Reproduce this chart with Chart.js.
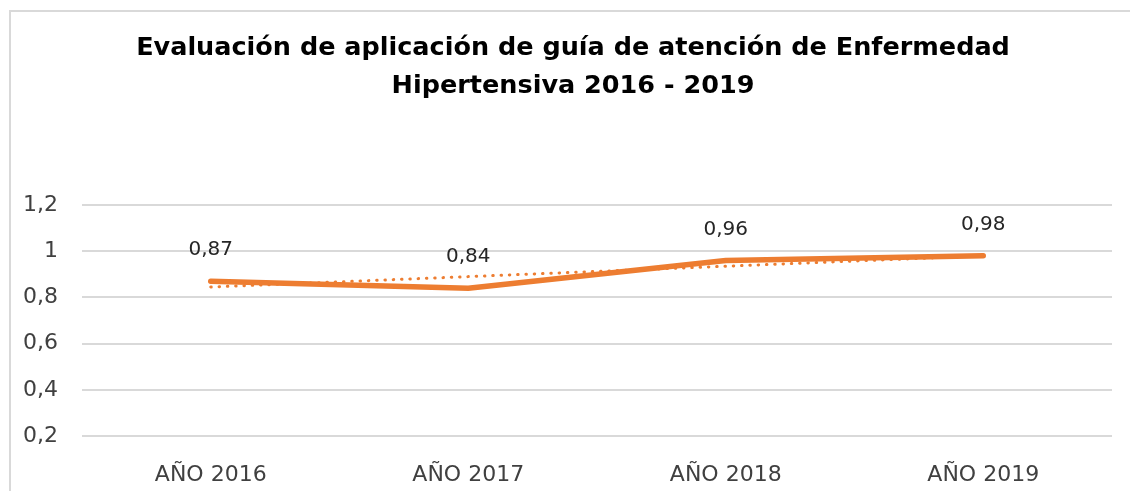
<!DOCTYPE html>
<html>
<head>
<meta charset="utf-8">
<script src="https://cdn.jsdelivr.net/npm/chart.js@4/dist/chart.umd.min.js"></script>
<style>
  html, body { margin: 0; padding: 0; background: #fff; overflow: hidden; }
  #wrap { width: 1130px; height: 491px; position: relative; }
</style>
</head>
<body>
<div id="wrap"><canvas id="chart"></canvas></div>
<script>
// datos del gráfico
const categories = ['AÑO 2016', 'AÑO 2017', 'AÑO 2018', 'AÑO 2019'];
const valores = [0.87, 0.84, 0.96, 0.98];
const tendencia = [0.845, 0.89, 0.935, 0.98]; // línea de tendencia
const yTicks = [0.2, 0.4, 0.6, 0.8, 1, 1.2];
const titulo = ['Evaluación de aplicación de guía de atención de Enfermedad', 'Hipertensiva 2016 - 2019'];

const naranja = '#ED7D31';
const fuente = "'DejaVu Sans', sans-serif";

const fmt = v => String(Math.round(v * 100) / 100).replace('.', ',');

// marco gris (solo borde superior e izquierdo visibles) y título
const marco = {
  id: 'marco',
  beforeDraw(chart) {
    const ctx = chart.ctx;
    ctx.save();
    ctx.strokeStyle = '#d9d9d9';
    ctx.lineWidth = 2;
    ctx.beginPath();
    ctx.moveTo(10, 500);
    ctx.lineTo(10, 11);
    ctx.lineTo(1140, 11);
    ctx.stroke();

    // título centrado sobre el marco
    ctx.font = 'bold 25.5px ' + fuente;
    ctx.fillStyle = '#000';
    ctx.textAlign = 'center';
    ctx.textBaseline = 'middle';
    titulo.forEach((t, i) => ctx.fillText(t, 573, 48 + i * 38));
    ctx.restore();
  }
};

// etiquetas de datos sobre los puntos
const etiquetas = {
  id: 'etiquetas',
  afterDatasetsDraw(chart) {
    const ctx = chart.ctx;
    const meta = chart.getDatasetMeta(0);
    ctx.save();
    ctx.font = '20px ' + fuente;
    ctx.fillStyle = '#262626';
    ctx.textAlign = 'center';
    ctx.textBaseline = 'middle';
    meta.data.forEach((pt, i) => {
      ctx.fillText(fmt(valores[i]), pt.x, pt.y - 31);
    });
    ctx.restore();
  }
};

new Chart(document.getElementById('chart'), {
  type: 'line',
  data: {
    labels: categories,
    datasets: [
      {
        label: 'Evaluación',
        data: valores,
        borderColor: naranja,
        borderWidth: 5.5,
        borderCapStyle: 'round',
        borderJoinStyle: 'round',
        pointRadius: 0,
        tension: 0,
        order: 1
      },
      {
        label: 'Tendencia',
        data: tendencia,
        borderColor: naranja,
        borderWidth: 3,
        borderDash: [0.5, 7.8],
        borderCapStyle: 'round',
        pointRadius: 0,
        tension: 0,
        order: 2
      }
    ]
  },
  options: {
    responsive: true,
    maintainAspectRatio: false,
    animation: false,
    layout: { padding: { top: 205, right: 18, bottom: 0, left: 0 } },
    plugins: {
      legend: { display: false },
      tooltip: { enabled: false },
      title: { display: false }
    },
    scales: {
      x: {
        offset: true,
        grid: { display: false },
        border: { display: false },
        ticks: { color: '#404040', padding: 18, font: { family: fuente, size: 22 } },
        afterFit(scale) { scale.height = 55; }
      },
      y: {
        min: 0.2,
        max: 1.2,
        afterBuildTicks(scale) { scale.ticks = yTicks.map(v => ({ value: v })); },
        grid: { color: '#d9d9d9', lineWidth: 2, drawTicks: false },
        border: { display: false },
        ticks: {
          color: '#404040',
          padding: 24,
          font: { family: fuente, size: 22 },
          callback: v => fmt(v)
        },
        afterFit(scale) { scale.width = 82; }
      }
    }
  },
  plugins: [marco, etiquetas]
});
</script>
</body>
</html>
